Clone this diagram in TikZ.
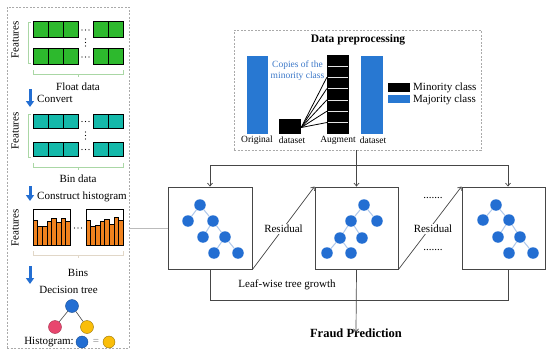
\documentclass[tikz,border=0pt]{standalone}
\usepackage{fontspec}
\setmainfont{Liberation Serif}
\usetikzlibrary{arrows.meta,calc}
\definecolor{cgreen}{RGB}{45,185,45}
\definecolor{cteal}{RGB}{20,185,170}
\definecolor{corange}{RGB}{240,130,30}
\definecolor{cblue}{RGB}{35,110,210}
\definecolor{cbar}{RGB}{40,120,210}
\definecolor{cpink}{RGB}{232,70,110}
\definecolor{cyellow}{RGB}{250,190,10}
\definecolor{cedge}{RGB}{175,200,235}
\definecolor{cline}{RGB}{70,70,70}
\definecolor{ctextblue}{RGB}{60,120,200}
\definecolor{cbrgreen}{RGB}{170,215,165}
\definecolor{cbrbeige}{RGB}{225,215,200}
\definecolor{cdash}{RGB}{170,170,170}
\begin{document}
\begin{tikzpicture}[x=1pt,y=-1pt,
  txt/.style={font=\fontsize{11}{12}\selectfont, inner sep=0pt},
  smalltxt/.style={font=\fontsize{9.5}{10}\selectfont, inner sep=0pt},
  panel/.style={draw=cdash, dash pattern=on 2pt off 1.5pt, line width=0.6pt},
  tbox/.style={draw=cline, line width=0.9pt, minimum width=84pt, minimum height=82pt, inner sep=0pt, fill=white},
  tn/.style={circle, fill=cblue, minimum size=11.5pt, inner sep=0pt},
  tedge/.style={cedge, line width=1pt},
  conn/.style={draw=cline, line width=0.7pt},
  arr/.style={conn, -{Straight Barb[length=3pt,width=5pt]}},
  blockarr/.style={cblue, line width=3pt, -{Triangle[length=6pt,width=8pt]}},
  brg/.style={cbrgreen, line width=0.8pt},
  brb/.style={cbrbeige, line width=0.8pt},
  cell/.style={draw=black, line width=0.7pt},
  dot/.style={circle, fill=black, inner sep=0pt, minimum size=1.3pt}
]
\useasboundingbox (0,0) rectangle (550,359);

% ---------- left panel ----------
\node[panel, minimum width=122pt, minimum height=341pt, inner sep=0pt] (lp) at (68,177.5) {};

% Float data
\node[txt, rotate=90] (f1) at (15,40) {Features};
\foreach \x in {33,48,63,93,108} {
  \draw[cell, fill=cgreen] (\x,21) rectangle ++(15,16);
  \draw[cell, fill=cgreen] (\x,48) rectangle ++(15,16);
}
\foreach \y in {29,56} \foreach \x in {82,85.5,89} \node[dot] at (\x,\y+1) {};
\foreach \y in {39,42.5,46} \node[dot] at (85.5,\y) {};
\draw[brg] (31,22) -- (28,22) -- (28,63) -- (31,63);
\draw[brg] (33,70) -- (33,74) -- (123,74) -- (123,70);
\draw[brg] (78,74) -- (78,77);
\node[txt] (fd) at (78,87) {Float data};
\draw[blockarr] (30,89) -- (30,107);
\node[txt, anchor=west] (cv) at (37,99) {Convert};

% Bin data
\node[txt, rotate=90] (f2) at (15,131) {Features};
\foreach \x in {33,48,63,93,108} {
  \draw[cell, fill=cteal] (\x,114) rectangle ++(15,14.5);
  \draw[cell, fill=cteal] (\x,142) rectangle ++(15,14.5);
}
\foreach \y in {121.5,149.5} \foreach \x in {82,85.5,89} \node[dot] at (\x,\y) {};
\foreach \y in {132,135.5,139} \node[dot] at (85.5,\y) {};
\draw[brg] (31,114) -- (28,114) -- (28,157) -- (31,157);
\draw[brg] (33,163) -- (33,167) -- (123,167) -- (123,163);
\draw[brg] (78,167) -- (78,170);
\node[txt] (bd) at (78,179) {Bin data};
\draw[blockarr] (30,186) -- (30,201);
\node[txt, anchor=west] (ch) at (37,197) {Construct histogram};

% Histograms
\node[txt, rotate=90] (f3) at (15,228) {Features};
\foreach \i/\t in {0/220,1/226,2/226.5,3/221,4/218,5/222,6/218,7/221} {
  \draw[fill=corange, draw=black, line width=0.4pt] (33+\i*4.625,\t) rectangle ++(4.625,245-\t);
}
\foreach \i/\t in {0/220,1/226,2/225.5,3/221.5,4/219,5/224,6/217,7/220} {
  \draw[fill=corange, draw=black, line width=0.4pt] (86+\i*4.625,\t) rectangle ++(4.625,245-\t);
}
\draw[line width=0.9pt] (33,209) rectangle (70,245);
\draw[line width=0.9pt] (86,209) rectangle (123,245);
\foreach \x in {74.5,78,81.5} \node[dot] at (\x,228) {};
\draw[brb] (33,251) -- (33,255) -- (123,255) -- (123,251);
\draw[brb] (78,255) -- (78,258);
\node[txt] (bn) at (78,273) {Bins};
\draw[blockarr] (30,266) -- (30,284);
\node[txt] (dt) at (68.5,290) {Decision tree};

% small decision tree
\node[circle, fill=cblue, draw=cblue!70!black, line width=0.4pt, minimum size=13pt, inner sep=0pt] (dr) at (72,306) {};
\node[circle, fill=cpink, draw=cpink!70!black, line width=0.4pt, minimum size=13pt, inner sep=0pt] (dl) at (55,327) {};
\node[circle, fill=cyellow, draw=cyellow!60!black, line width=0.4pt, minimum size=13pt, inner sep=0pt] (dy) at (87,327) {};
\draw[cline, line width=0.6pt] (dr) -- (dl);
\draw[cline, line width=0.6pt] (dr) -- (dy);
\node[txt, anchor=east] (hg) at (74,342) {Histogram:};
\node[circle, fill=cblue, draw=cblue!70!black, line width=0.4pt, minimum size=12pt, inner sep=0pt] (hb) at (82,342) {};
\node[txt, text=gray] (eq) at (96,342) {=};
\node[circle, fill=cyellow, draw=cyellow!60!black, line width=0.4pt, minimum size=12pt, inner sep=0pt] (hy) at (109,342) {};

% ---------- data preprocessing ----------
\node[panel, minimum width=247pt, minimum height=120pt, inner sep=0pt] (dp) at (357.5,90) {};
\node[font=\fontsize{11.5}{12}\selectfont\bfseries, inner sep=0pt] (dpt) at (358,40) {Data preprocessing};
\node[fill=cbar, minimum width=21pt, minimum height=78pt, inner sep=0pt] (ob) at (257.5,95) {};
\node[fill=black, minimum width=22pt, minimum height=15pt, inner sep=0pt] (sq) at (290,126.5) {};
\node[fill=black, minimum width=22pt, minimum height=79pt, inner sep=0pt] (aug) at (338,94.5) {};
\foreach \k in {1,...,6} \draw[white!80!gray, line width=0.6pt] ($(aug.north west)+(1,\k*11.29)$) -- ($(aug.north east)+(-1,\k*11.29)$);
\foreach \k in {2,...,6} \draw[black, line width=0.8pt] ($(sq.east)+(0,1)$) -- ($(aug.north west)+(0,\k*11.29)$);
\node[fill=cbar, minimum width=22pt, minimum height=78pt, inner sep=0pt] (ab) at (372,95) {};
\node[smalltxt] (l1) at (257,140.5) {Original};
\node[smalltxt] (l2) at (292,140.5) {dataset};
\node[smalltxt] (l3) at (338,140.5) {Augment};
\node[smalltxt] (l4) at (373,140.5) {dataset};
\node[smalltxt, text=ctextblue, align=center, font=\fontsize{9.5}{11}\selectfont] (cp) at (297.5,70.5) {Copies of the\\minority class};
\node[fill=black, minimum width=22pt, minimum height=8.5pt, inner sep=0pt] (lgm) at (399,87.3) {};
\node[fill=cbar, minimum width=22pt, minimum height=8pt, inner sep=0pt] (lgj) at (399,99) {};
\node[txt, anchor=west] (lgmt) at (413,87.5) {Minority class};
\node[txt, anchor=west] (lgjt) at (413,99.5) {Majority class};

% ---------- tree boxes ----------
\node[tbox] (b1) at (210,228) {};
\node[tbox, minimum width=83pt] (b2) at (356.5,228) {};
\node[tbox, minimum width=83pt] (b3) at (503.5,228) {};

% box1 tree
\node[tn] (a1) at (200,205) {};
\node[tn] (a2) at (188,221) {};
\node[tn] (a3) at (213,221) {};
\node[tn] (a4) at (203,237) {};
\node[tn] (a5) at (225,237) {};
\node[tn] (a6) at (214,253) {};
\node[tn] (a7) at (238,253) {};
\draw[tedge] (a1) -- (a2); \draw[tedge] (a1) -- (a3);
\draw[tedge] (a3) -- (a4); \draw[tedge] (a3) -- (a5);
\draw[tedge] (a5) -- (a6); \draw[tedge] (a5) -- (a7);
% box2 tree
\node[tn] (c1) at (364,205) {};
\node[tn] (c2) at (351,221) {};
\node[tn] (c3) at (377,221) {};
\node[tn] (c4) at (340,238) {};
\node[tn] (c5) at (362,238) {};
\node[tn] (c6) at (327,253) {};
\node[tn] (c7) at (351,253) {};
\draw[tedge] (c1) -- (c2); \draw[tedge] (c1) -- (c3);
\draw[tedge] (c2) -- (c4); \draw[tedge] (c2) -- (c5);
\draw[tedge] (c4) -- (c6); \draw[tedge] (c4) -- (c7);
% box3 tree
\node[tn] (e1) at (496,205) {};
\node[tn] (e2) at (483,220) {};
\node[tn] (e3) at (509,220) {};
\node[tn] (e4) at (498,237) {};
\node[tn] (e5) at (520,237) {};
\node[tn] (e6) at (509,253) {};
\node[tn] (e7) at (533,253) {};
\draw[tedge] (e1) -- (e2); \draw[tedge] (e1) -- (e3);
\draw[tedge] (e3) -- (e4); \draw[tedge] (e3) -- (e5);
\draw[tedge] (e5) -- (e6); \draw[tedge] (e5) -- (e7);

% ---------- connectors ----------
\coordinate (hbar) at (0,165);
\coordinate (lbar) at (0,300);
\draw[arr] (dp.south -| b2.north) -- (b2.north);
\draw[conn] (hbar -| b1.north) -- ([xshift=4.5pt]hbar -| b3.north);
\draw[arr] (hbar -| b1.north) -- (b1.north);
\draw[arr] ([xshift=4.5pt]hbar -| b3.north) -- ([xshift=4.5pt]b3.north);

\draw[arr] (b1.south east) -- (b2.north west) node[midway, fill=white, txt, inner sep=1pt, yshift=-1pt] {Residual};
\draw[arr] (b2.south east) -- (b3.north west) node[midway, fill=white, txt, inner sep=1pt, xshift=3pt, yshift=-1pt] {Residual};
\node[txt] (d1) at (433,198) {.......};
\node[txt] (d2) at (433,250) {.......};

\draw[conn] (b1.south) -- (lbar -| b1.south) -- ([xshift=4.5pt]lbar -| b3.south) -- ([xshift=4.5pt]b3.south);
\node[font=\fontsize{12.5}{13}\selectfont\bfseries, inner sep=0pt] (fp) at (356,333) {Fraud Prediction};
\draw[arr] (b2.south) -- ([yshift=-4pt]fp.north);
\node[txt] (lw) at (287,285) {Leaf-wise tree growth};

\draw[cdash!80, line width=0.7pt] (lp.east |- b1.west) -- (b1.west);
\end{tikzpicture}
\end{document}
